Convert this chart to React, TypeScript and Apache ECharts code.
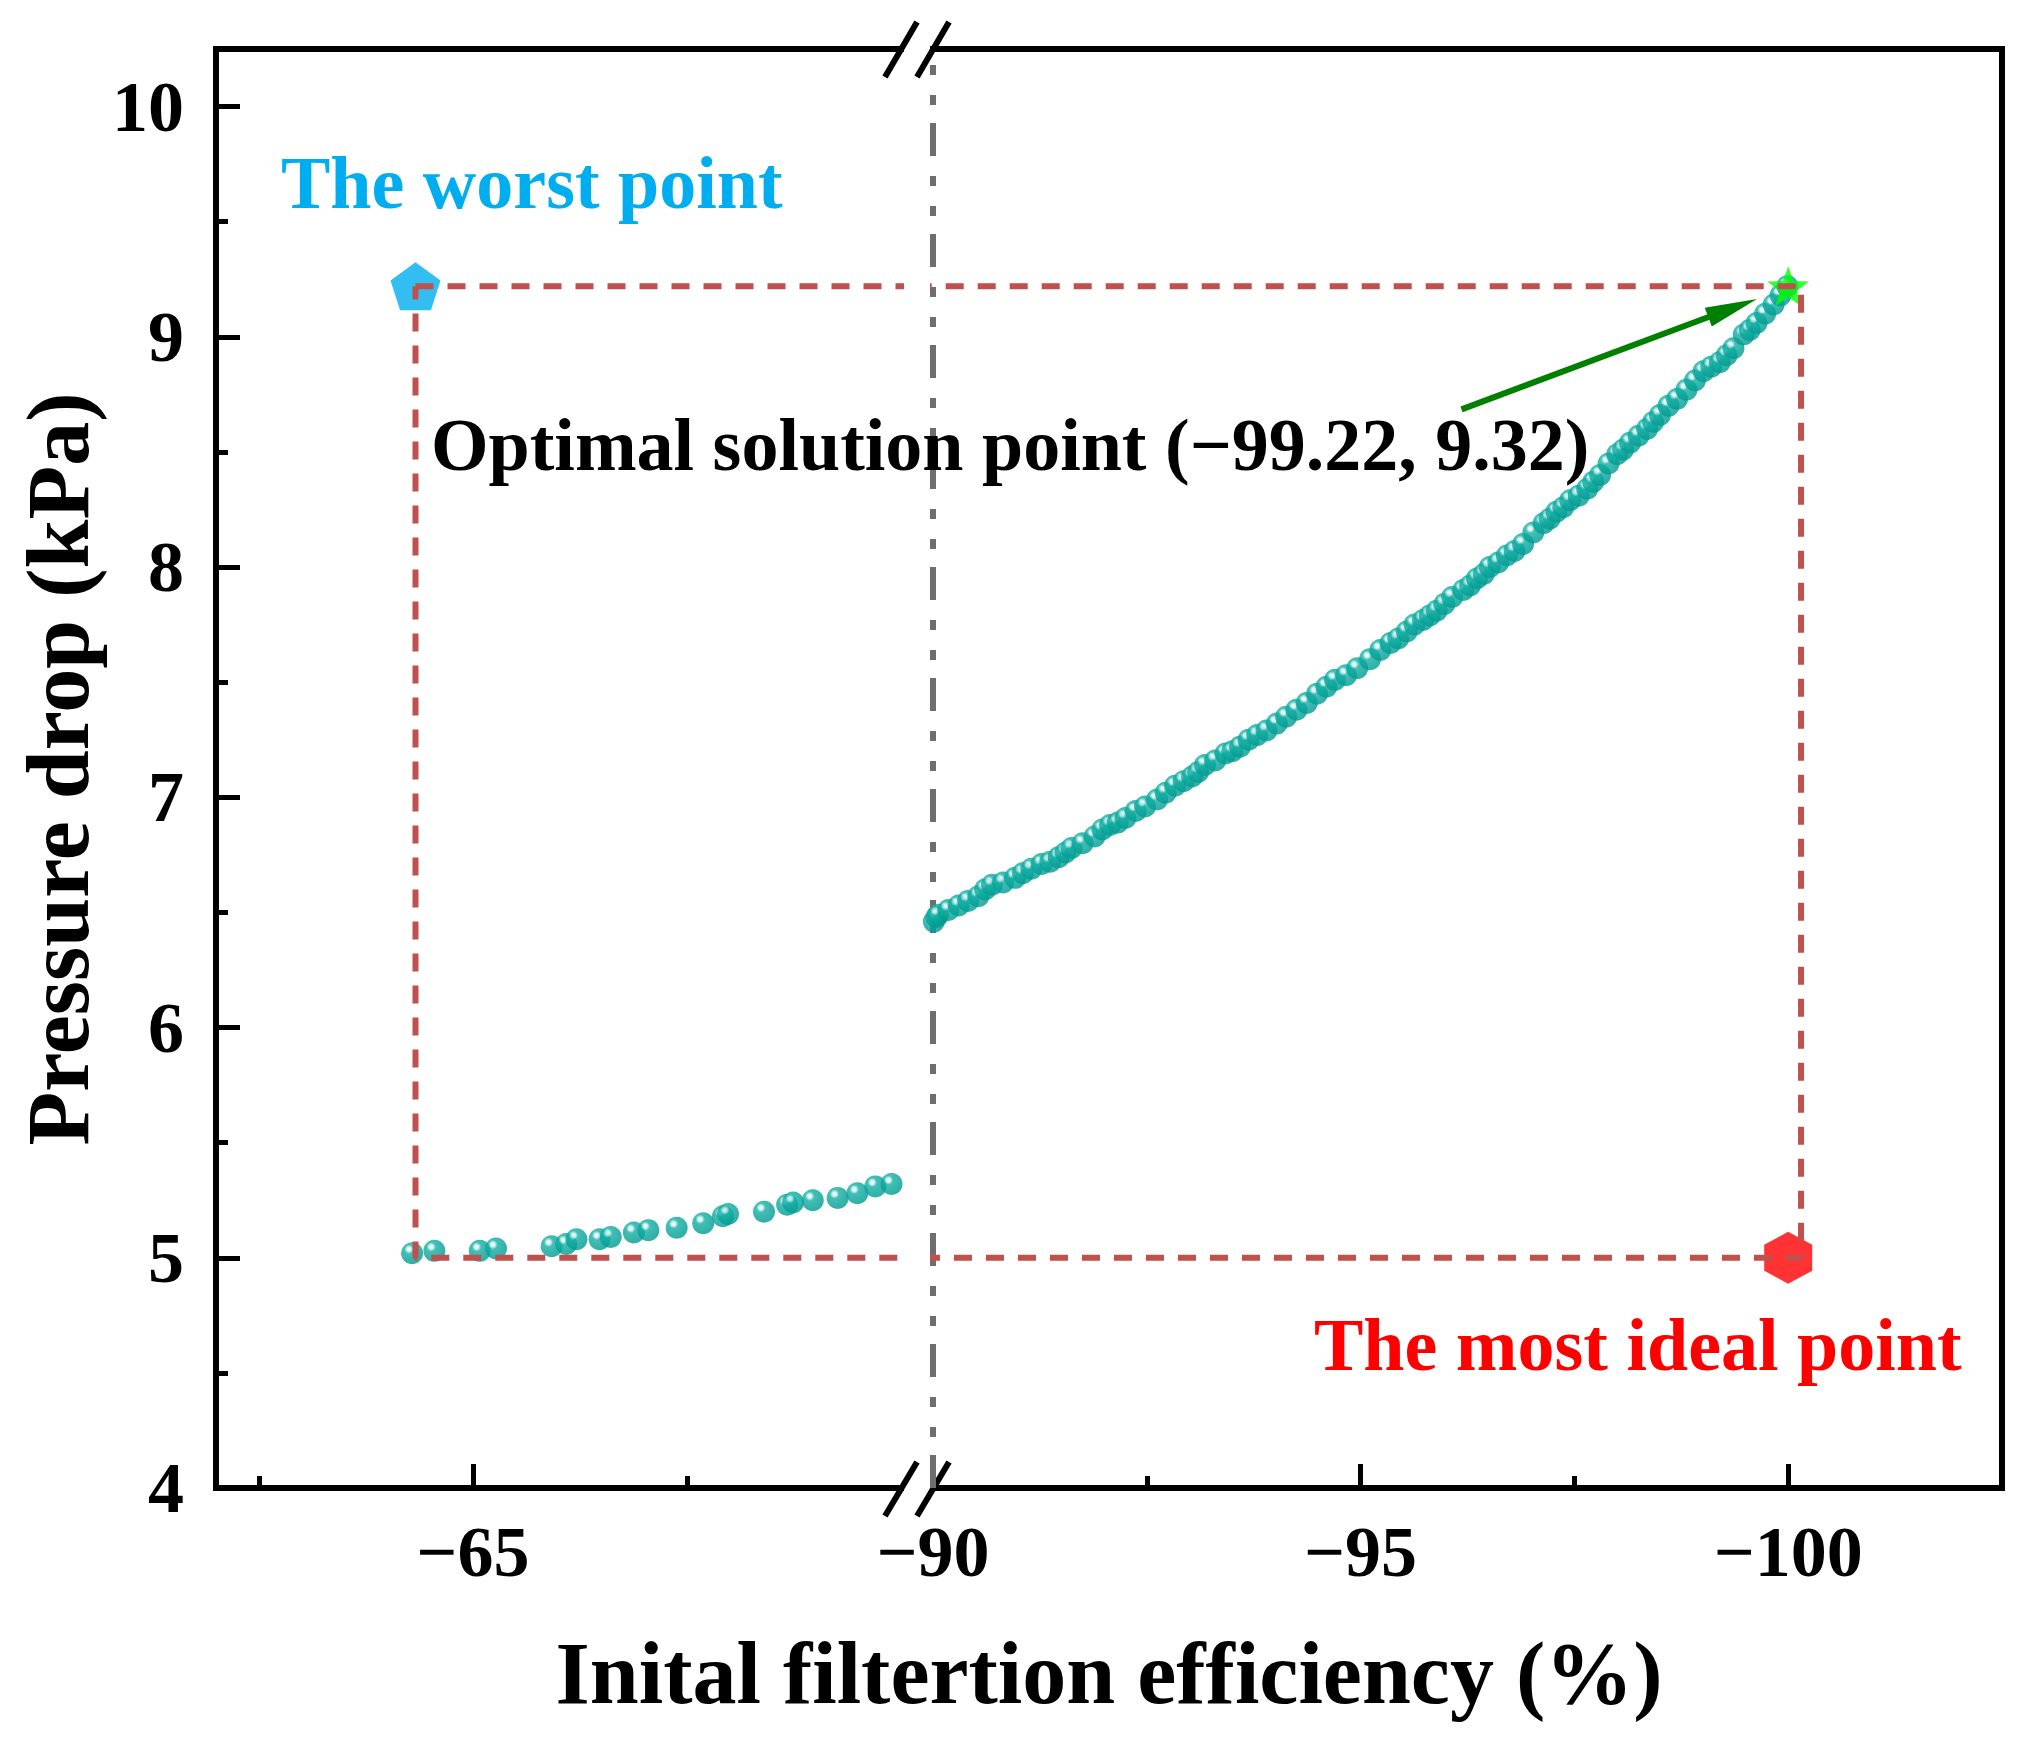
import React, { useEffect, useRef } from 'react';
import * as echarts from 'echarts';

// left branch of the front (x axis segment -62 .. -70)
const leftFront: [number, number][] = [
  [-64.29, 5.02], [-64.55, 5.03], [-65.08, 5.03], [-65.27, 5.04], [-65.92, 5.05],
  [-66.09, 5.06], [-66.21, 5.08], [-66.48, 5.08], [-66.61, 5.09], [-66.88, 5.11],
  [-67.05, 5.12], [-67.38, 5.13], [-67.69, 5.15], [-67.92, 5.18], [-67.98, 5.19],
  [-68.4, 5.2], [-68.67, 5.23], [-68.74, 5.24], [-68.97, 5.25], [-69.26, 5.26],
  [-69.49, 5.28], [-69.7, 5.31], [-69.89, 5.32],
];

// right branch of the front (x axis segment -90 .. -102.5)
const rightFront: [number, number][] = [
  [-90.01, 6.46], [-90.04, 6.48], [-90.06, 6.49], [-90.18, 6.51], [-90.3, 6.53],
  [-90.41, 6.55], [-90.53, 6.57], [-90.61, 6.6], [-90.69, 6.62], [-90.82, 6.63],
  [-90.96, 6.65], [-91.05, 6.67], [-91.15, 6.69], [-91.27, 6.71], [-91.37, 6.72],
  [-91.47, 6.74], [-91.55, 6.76], [-91.62, 6.78], [-91.75, 6.8], [-91.89, 6.83],
  [-91.98, 6.86], [-92.07, 6.88], [-92.16, 6.89], [-92.25, 6.91], [-92.37, 6.94],
  [-92.48, 6.96], [-92.62, 6.99], [-92.72, 7.02], [-92.83, 7.05], [-92.93, 7.07],
  [-93.03, 7.09], [-93.1, 7.11], [-93.18, 7.14], [-93.3, 7.16], [-93.42, 7.19],
  [-93.5, 7.2], [-93.59, 7.22], [-93.69, 7.25], [-93.79, 7.27], [-93.9, 7.29],
  [-94.02, 7.32], [-94.13, 7.35], [-94.25, 7.38], [-94.37, 7.41], [-94.49, 7.45],
  [-94.6, 7.48], [-94.7, 7.51], [-94.83, 7.53], [-94.96, 7.56], [-95.11, 7.6],
  [-95.23, 7.64], [-95.35, 7.67], [-95.44, 7.69], [-95.54, 7.72], [-95.63, 7.75],
  [-95.73, 7.77], [-95.81, 7.79], [-95.89, 7.81], [-95.98, 7.84], [-96.07, 7.87],
  [-96.2, 7.9], [-96.28, 7.92], [-96.36, 7.95], [-96.44, 7.97], [-96.51, 8.0],
  [-96.61, 8.02], [-96.71, 8.05], [-96.8, 8.07], [-96.9, 8.1], [-97.02, 8.15],
  [-97.14, 8.19], [-97.21, 8.21], [-97.29, 8.24], [-97.37, 8.26], [-97.45, 8.29],
  [-97.55, 8.31], [-97.65, 8.34], [-97.72, 8.37], [-97.8, 8.4], [-97.9, 8.45],
  [-98.0, 8.49], [-98.07, 8.51], [-98.15, 8.54], [-98.25, 8.57], [-98.35, 8.6],
  [-98.42, 8.63], [-98.5, 8.66], [-98.6, 8.7], [-98.7, 8.73], [-98.81, 8.77],
  [-98.91, 8.81], [-99.01, 8.85], [-99.1, 8.87], [-99.2, 8.89], [-99.28, 8.92],
  [-99.36, 8.95], [-99.48, 9.01], [-99.55, 9.03], [-99.63, 9.06], [-99.73, 9.1],
  [-99.83, 9.14], [-99.91, 9.18], [-99.99, 9.22],
];

const worstPoint: [number, number] = [-64.33, 9.22];
const idealPoint: [number, number] = [-100, 5.0];
const optimalPoint: [number, number] = [-100, 9.22];

// dashed box between worst point and ideal point
const boxFrame: [number, number][] = [
  [-64.33, 9.22], [-100.15, 9.22], [-100.15, 5.0], [-64.33, 5.0], [-64.33, 9.22],
];
const breakLine: [number, number][] = [[-90, 4], [-90, 10.25]];
const arrowFrom: [number, number] = [-96.18, 8.685];
const arrowTo: [number, number] = [-99.35, 9.125];

const yTicks = [4, 5, 6, 7, 8, 9, 10];
const yMinorTicks = [4.5, 5.5, 6.5, 7.5, 8.5, 9.5];
const xLeftTicks = [-65];
const xLeftMinor = [-62.5, -67.5];
const xRightTicks = [-90, -95, -100];
const xRightMinor = [-92.5, -97.5];

const FONT = '"Liberation Serif", "Times New Roman", serif';
const BLACK = '#000000';
const BOX_RED = '#c0504d';

const pentagon = 'path://M0,-1L0.951,-0.309L0.588,0.809L-0.588,0.809L-0.951,-0.309Z';
const hexagon = 'path://M0,-1L0.866,-0.5L0.866,0.5L0,1L-0.866,0.5L-0.866,-0.5Z';
const star =
  'path://M0,-1L0.235,-0.324L0.951,-0.309L0.38,0.124L0.588,0.809L0,0.4L-0.588,0.809L-0.38,0.124L-0.951,-0.309L-0.235,-0.324Z';

const minusLabel = (v: number) => (v < 0 ? '\u2212' + Math.abs(v) : String(v));

const frameLine = { show: true, onZero: false, lineStyle: { color: BLACK, width: 6, cap: 'square' } };

const App: React.FC = () => {
  const chartRef = useRef<HTMLDivElement>(null);

  useEffect(() => {
    if (!chartRef.current) return;
    document.body.style.margin = '0';
    const chart = echarts.init(chartRef.current, undefined, { renderer: 'svg' });

    const ball = new echarts.graphic.RadialGradient(0.36, 0.32, 0.62, [
      { offset: 0, color: '#ffffff' },
      { offset: 0.16, color: '#c4efeb' },
      { offset: 0.34, color: '#12aea4' },
      { offset: 1, color: '#009c92' },
    ]);

    const tickLabel = {
      color: BLACK,
      fontSize: 72,
      fontWeight: 'bold' as const,
      fontFamily: FONT,
    };

    const xAxisPair = (grid: number, min: number, max: number, major: number[], minor: number[]) => [
      {
        gridIndex: grid, type: 'value', min, max, inverse: true, position: 'bottom',
        axisLine: frameLine,
        axisTick: { show: true, inside: true, length: 24, customValues: major, lineStyle: { color: BLACK, width: 5 } },
        axisLabel: { show: true, customValues: major, formatter: minusLabel, margin: 28, ...tickLabel },
        splitLine: { show: false },
      },
      {
        gridIndex: grid, type: 'value', min, max, inverse: true, position: 'bottom',
        axisLine: { show: false },
        axisTick: { show: true, inside: true, length: 12, customValues: minor, lineStyle: { color: BLACK, width: 5 } },
        axisLabel: { show: false },
        splitLine: { show: false },
      },
      {
        gridIndex: grid, type: 'value', min, max, inverse: true, position: 'top',
        axisLine: frameLine,
        axisTick: { show: false },
        axisLabel: { show: false },
        splitLine: { show: false },
      },
    ];

    const option: any = {
      animation: false,
      backgroundColor: '#ffffff',
      textStyle: { fontFamily: FONT },
      grid: [
        { left: 216, top: 49, width: 685, height: 1439 },
        { left: 933, top: 49, width: 1069, height: 1439 },
      ],
      xAxis: [
        ...xAxisPair(0, -70, -62, xLeftTicks, xLeftMinor),
        ...xAxisPair(1, -102.5, -90, xRightTicks, xRightMinor),
      ],
      yAxis: [
        {
          gridIndex: 0, type: 'value', min: 4, max: 10.25, position: 'left',
          axisLine: frameLine,
          axisTick: { show: true, inside: true, length: 24, customValues: yTicks, lineStyle: { color: BLACK, width: 5 } },
          axisLabel: { show: true, customValues: yTicks, margin: 32, ...tickLabel },
          splitLine: { show: false },
        },
        {
          gridIndex: 0, type: 'value', min: 4, max: 10.25, position: 'left',
          axisLine: { show: false },
          axisTick: { show: true, inside: true, length: 12, customValues: yMinorTicks, lineStyle: { color: BLACK, width: 5 } },
          axisLabel: { show: false },
          splitLine: { show: false },
        },
        {
          gridIndex: 1, type: 'value', min: 4, max: 10.25, position: 'right',
          axisLine: frameLine,
          axisTick: { show: false },
          axisLabel: { show: false },
          splitLine: { show: false },
        },
      ],
      series: [
        {
          type: 'line', xAxisIndex: 0, yAxisIndex: 0, data: boxFrame, symbol: 'none', clip: true, silent: true, z: 4,
          lineStyle: { color: BOX_RED, width: 6, type: [18, 14] },
        },
        {
          type: 'line', xAxisIndex: 3, yAxisIndex: 2, data: boxFrame, symbol: 'none', clip: true, silent: true, z: 4,
          lineStyle: { color: BOX_RED, width: 6, type: [18, 14] },
        },
        {
          type: 'line', xAxisIndex: 3, yAxisIndex: 2, data: breakLine, symbol: 'none', clip: false, silent: true, z: 1,
          lineStyle: { color: '#6e6e6e', width: 6, type: [33, 18, 10, 20, 10, 20] },
        },
        {
          type: 'scatter', xAxisIndex: 0, yAxisIndex: 0, data: leftFront, symbol: 'circle', symbolSize: 22, z: 2,
          itemStyle: { color: ball },
        },
        {
          type: 'scatter', xAxisIndex: 3, yAxisIndex: 2, data: rightFront, symbol: 'circle', symbolSize: 22, z: 2,
          itemStyle: { color: ball },
        },
        {
          type: 'scatter', xAxisIndex: 0, yAxisIndex: 0, data: [worstPoint], symbol: pentagon, symbolSize: [50, 48], z: 3,
          itemStyle: { color: '#00aeef' },
        },
        {
          type: 'scatter', xAxisIndex: 3, yAxisIndex: 2, data: [idealPoint], symbol: hexagon, symbolSize: [48, 52], z: 3,
          itemStyle: { color: '#ff0000' },
        },
        {
          type: 'scatter', xAxisIndex: 3, yAxisIndex: 2, data: [optimalPoint], symbol: star, symbolSize: [42, 40], z: 3,
          itemStyle: { color: '#00ff00' },
          markLine: {
            silent: true,
            symbol: ['none', 'triangle'],
            symbolSize: [20, 52],
            label: { show: false },
            lineStyle: { color: '#008000', width: 6, type: 'solid' },
            data: [[{ coord: arrowFrom }, { coord: arrowTo }]],
          },
        },
      ],
      graphic: [
        // axis break marks
        { type: 'line', shape: { x1: 885, y1: 77, x2: 917, y2: 22 }, style: { stroke: BLACK, lineWidth: 6 } },
        { type: 'line', shape: { x1: 917, y1: 77, x2: 949, y2: 22 }, style: { stroke: BLACK, lineWidth: 6 } },
        { type: 'line', shape: { x1: 885, y1: 1516, x2: 917, y2: 1462 }, style: { stroke: BLACK, lineWidth: 6 } },
        { type: 'line', shape: { x1: 917, y1: 1516, x2: 949, y2: 1462 }, style: { stroke: BLACK, lineWidth: 6 } },
        {
          type: 'text', x: 281, y: 183, z: 10,
          style: {
            text: 'The worst point', fill: '#00aeef', fontSize: 74, fontWeight: 'bold', fontFamily: FONT,
            align: 'left', verticalAlign: 'middle', textAlign: 'left', textVerticalAlign: 'middle',
          },
        },
        {
          type: 'text', x: 431, y: 445, z: 10,
          style: {
            text: 'Optimal solution point (\u221299.22, 9.32)', fill: BLACK, fontSize: 74, fontWeight: 'bold', fontFamily: FONT,
            align: 'left', verticalAlign: 'middle', textAlign: 'left', textVerticalAlign: 'middle',
          },
        },
        {
          type: 'text', x: 1314, y: 1345, z: 10,
          style: {
            text: 'The most ideal point', fill: '#ff0000', fontSize: 74, fontWeight: 'bold', fontFamily: FONT,
            align: 'left', verticalAlign: 'middle', textAlign: 'left', textVerticalAlign: 'middle',
          },
        },
        {
          type: 'text', x: 1109, y: 1673, z: 10,
          style: {
            text: 'Inital filtertion efficiency (%)', fill: BLACK, fontSize: 88, fontWeight: 'bold', fontFamily: FONT,
            align: 'center', verticalAlign: 'middle', textAlign: 'center', textVerticalAlign: 'middle',
          },
        },
        {
          type: 'text', x: 58, y: 769, rotation: Math.PI / 2, z: 10,
          style: {
            text: 'Pressure drop (kPa)', fill: BLACK, fontSize: 88, fontWeight: 'bold', fontFamily: FONT,
            align: 'center', verticalAlign: 'middle', textAlign: 'center', textVerticalAlign: 'middle',
          },
        },
      ],
    };

    chart.setOption(option);

    return () => {
      chart.dispose();
    };
  }, []);

  return <div ref={chartRef} style={{ width: '2020px', height: '1738px' }} />;
};

export default App;
